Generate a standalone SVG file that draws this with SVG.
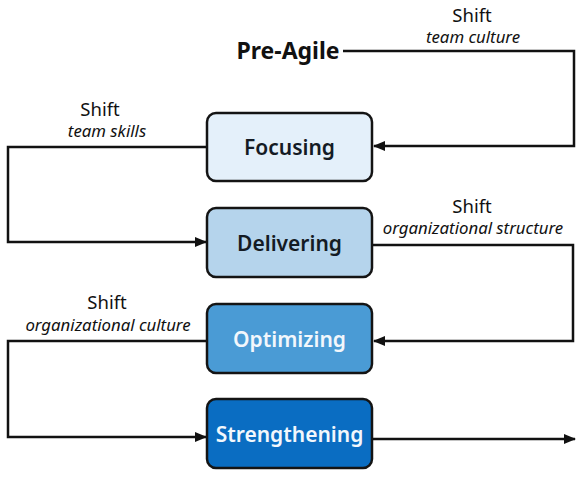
<svg xmlns="http://www.w3.org/2000/svg" width="577" height="482" viewBox="0 0 577 482">
<style>
.box{stroke:#141414;stroke-width:2.5}
.lbl{font-family:"Noto Sans","Open Sans",sans-serif;font-weight:600;font-size:21px;text-anchor:middle}
.dark{fill:#141b24}
.light{fill:#f2f7fc}
.conn{fill:none;stroke:#111;stroke-width:2.5}
.shift{font-family:"Noto Sans","Open Sans",sans-serif;font-size:18.5px;fill:#111;text-anchor:middle}
.sub{font-family:"Noto Sans","Open Sans",sans-serif;font-style:italic;font-size:16.8px;fill:#111;text-anchor:middle}
</style>
<defs>
<marker id="ah" viewBox="0 0 12 10" refX="11" refY="5" markerWidth="12" markerHeight="10" markerUnits="userSpaceOnUse" orient="auto">
<path d="M0,0 L12,5 L0,10 Z" fill="#111"/>
</marker>
</defs>
<rect width="577" height="482" fill="#fff"/>
<g id="connectors">
<path class="conn" d="M343,51 H574 V146 H374" marker-end="url(#ah)"/>
<path class="conn" d="M207,147 H8 V242 H206" marker-end="url(#ah)"/>
<path class="conn" d="M373,245 H573 V341 H374" marker-end="url(#ah)"/>
<path class="conn" d="M207,341 H8 V437 H206" marker-end="url(#ah)"/>
<path class="conn" d="M373,439 H575" marker-end="url(#ah)"/>
<text class="shift" x="472" y="22">Shift</text>
<text class="sub" x="473" y="43">team culture</text>
<text class="shift" x="100" y="116">Shift</text>
<text class="sub" x="107" y="137">team skills</text>
<text class="shift" x="472" y="213">Shift</text>
<text class="sub" x="473" y="234">organizational structure</text>
<text class="shift" x="107" y="309">Shift</text>
<text class="sub" x="108" y="331">organizational culture</text>
</g>
<g id="pre-agile">
<text x="288" y="59" font-family="'Noto Sans','Open Sans',sans-serif" font-weight="700" font-size="23" fill="#111" text-anchor="middle">Pre-Agile</text>
</g>
<g id="focusing">
<rect class="box" x="207" y="113" width="165" height="68" rx="9" fill="#e4f0fa"/>
<text class="lbl dark" x="289.5" y="155">Focusing</text>
</g>
<g id="delivering">
<rect class="box" x="207" y="208" width="165" height="69" rx="9" fill="#b5d4ec"/>
<text class="lbl dark" x="289.5" y="251">Delivering</text>
</g>
<g id="optimizing">
<rect class="box" x="207" y="304" width="165" height="69" rx="9" fill="#4a9bd5"/>
<text class="lbl light" x="289.5" y="347">Optimizing</text>
</g>
<g id="strengthening">
<rect class="box" x="207" y="399" width="165" height="69" rx="9" fill="#0a6dc2"/>
<text class="lbl light" x="289.5" y="442">Strengthening</text>
</g>
</svg>
